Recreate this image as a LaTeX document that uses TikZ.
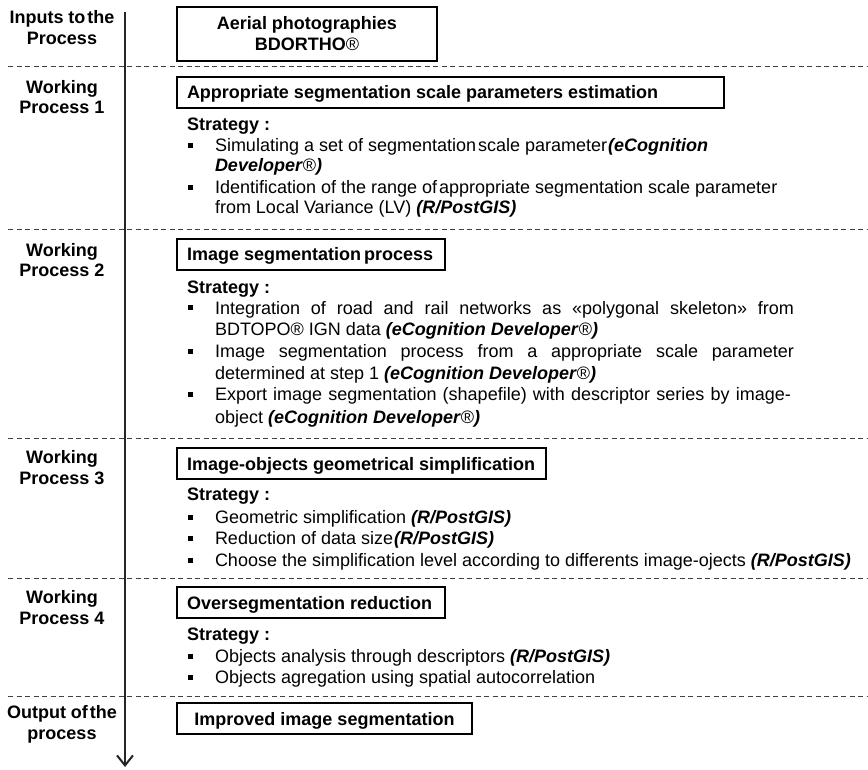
\documentclass[tikz,border=0pt]{standalone}
\usepackage{fontspec}
\setmainfont{Liberation Sans}
\usetikzlibrary{arrows.meta}
\newcommand{\bitx}[1]{\textbf{\textit{#1}}}
\begin{document}
\begin{tikzpicture}[x=1pt,y=-1pt,
  every node/.style={inner sep=0pt, outer sep=0pt, font=\fontsize{18}{21}\selectfont, text=black},
  lab/.style={font=\bfseries\fontsize{18}{20}\selectfont, anchor=base},
  body/.style={anchor=base west},
  strat/.style={anchor=base west, font=\bfseries\fontsize{18}{21}\selectfont},
  tbox/.style={draw, line width=2.5pt, fill=white, anchor=north west, minimum height=31pt, inner xsep=10pt, text height=13pt, text depth=0pt, font=\bfseries\fontsize{18}{21}\selectfont},
  ibox/.style={draw, line width=2.5pt, fill=white, anchor=north west, minimum width=260pt, minimum height=54pt, align=center, font=\bfseries\fontsize{18}{21}\selectfont},
  bsq/.style={fill=black, minimum size=5pt, inner sep=0pt},
  sep/.style={dash pattern=on 5pt off 3.5pt, line width=1pt, draw=black!75},
  flow/.style={line width=2.4pt, draw=black!85, -{Straight Barb[length=10pt,width=16pt,line width=2pt]}}
]
\path[use as bounding box] (0,0) rectangle (868,770);

% separators
\foreach \yy/\nm in {67/d1,230/d2,438/d3,578/d4,696/d5}{
  \coordinate (\nm l) at (8,\yy);
  \coordinate (\nm r) at (868,\yy);
  \draw[sep] (\nm l) -- (\nm r);
}

% time arrow
\coordinate (atop) at (125,12);
\coordinate (abot) at (125,767);
\draw[flow] (atop) -- (abot);

% left labels
\node[lab] (l0a) at (62,23.5) {Inputs to\kern2pt the};
\node[lab] (l0b) at (62,44.5) {Process};
\node[lab] (l1a) at (62,93.5) {Working};
\node[lab] (l1b) at (62,113.5) {Process 1};
\node[lab] (l2a) at (62,256.5) {Working};
\node[lab] (l2b) at (62,276.5) {Process 2};
\node[lab] (l3a) at (62,463.5) {Working};
\node[lab] (l3b) at (62,484.5) {Process 3};
\node[lab] (l4a) at (62,603.5) {Working};
\node[lab] (l4b) at (62,624.5) {Process 4};
\node[lab] (l5a) at (62,718.5) {Output of\kern2pt the};
\node[lab] (l5b) at (62,739) {process};

% input box
\node[ibox] (in) at (177,7) {Aerial photographies\\BDORTHO\textmd{®}};

% WP1
\node[tbox] (p1) at (177,77) {\makebox[527pt][l]{Appropriate segmentation scale parameters estimation}};
\node[strat] (s1) at (187,130.5) {Strategy :};
\node[bsq] (b11) at (190,146) {};
\node[body] (t11a) at (215,152) {Simulating a set of segmentation\kern2pt scale parameter\kern1pt\bitx{(eCognition}};
\node[body] (t11b) at (215,172) {\bitx{Developer}®\bitx{)}};
\node[bsq] (b12) at (190,188) {};
\node[body] (t12a) at (215,194) {Identification of the range of\kern2pt appropriate segmentation scale parameter};
\node[body] (t12b) at (215,214) {from Local Variance (LV) \bitx{(R/PostGIS)}};

% WP2
\node[tbox] (p2) at (177,239) {\makebox[248pt][l]{Image segmentation\kern3pt process}};
\node[strat] (s2) at (187,293.5) {Strategy :};
\node[bsq] (b21) at (190,308) {};
\node[body] (t21a) at (215,314) {\makebox[579pt][s]{Integration of road and rail networks as «polygonal skeleton» from}};
\node[body] (t21b) at (215,335) {BDTOPO® IGN data \bitx{(eCognition Developer}®\bitx{)}};
\node[bsq] (b22) at (190,351) {};
\node[body] (t22a) at (215,357) {\makebox[579pt][s]{Image segmentation process from a appropriate scale parameter}};
\node[body] (t22b) at (215,379) {determined at step 1 \bitx{(eCognition Developer}®\bitx{)}};
\node[bsq] (b23) at (190,394) {};
\node[body] (t23a) at (215,400) {\makebox[576pt][s]{Export image segmentation (shapefile) with descriptor series by image-}};
\node[body] (t23b) at (215,423) {object \bitx{(eCognition Developer}®\bitx{)}};

% WP3
\node[tbox] (p3) at (177,448) {\makebox[349pt][l]{Image-objects geometrical simplification}};
\node[strat] (s3) at (187,500.5) {Strategy :};
\node[bsq] (b31) at (190,517) {};
\node[body] (t31) at (215,523) {Geometric simplification \bitx{(R/PostGIS)}};
\node[bsq] (b32) at (190,538) {};
\node[body] (t32) at (215,544) {Reduction of data size\kern1pt\bitx{(R/PostGIS)}};
\node[bsq] (b33) at (190,560) {};
\node[body] (t33) at (215,566) {Choose the simplification level according to differents image-ojects \bitx{(R/PostGIS)}};

% WP4
\node[tbox] (p4) at (177,587) {\makebox[248pt][l]{Oversegmentation reduction}};
\node[strat] (s4) at (187,640.5) {Strategy :};
\node[bsq] (b41) at (190,656) {};
\node[body] (t41) at (215,662) {Objects analysis through descriptors \bitx{(R/PostGIS)}};
\node[bsq] (b42) at (190,677) {};
\node[body] (t42) at (215,683) {Objects agregation using spatial autocorrelation};

% output
\node[tbox] (p5) at (177,703) {\makebox[275pt][c]{Improved image segmentation}};
\end{tikzpicture}
\end{document}
